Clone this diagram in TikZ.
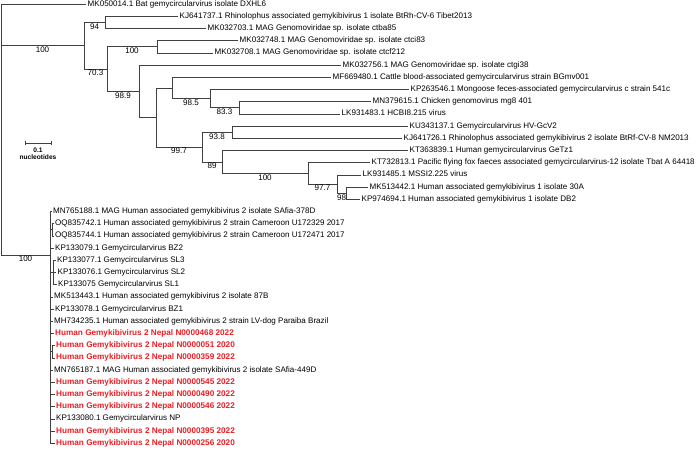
\documentclass[tikz,border=0pt]{standalone}
\usepackage{fontspec}
\setmainfont{Liberation Sans}
\usepackage{tikz}
\usetikzlibrary{positioning}
\definecolor{nepalRed}{RGB}{236,30,36}
\tikzstyle{branch} = [draw=black!75, line width=0.6pt]
\tikzstyle{leafNode} = [anchor=west, inner xsep=1.5pt, inner ysep=0pt, text height=6pt, text depth=1.8pt, font=\fontsize{8.05}{9.5}\selectfont]
\tikzstyle{nepalNode} = [leafNode, text=nepalRed, font=\fontsize{8.2}{9.5}\selectfont\bfseries]
\tikzstyle{bootLabel} = [pos=0.75, below=1pt, inner sep=0pt, font=\fontsize{8.05}{9.5}\selectfont]
\tikzstyle{scaleText} = [inner sep=0pt, font=\fontsize{6.6}{8}\selectfont\bfseries]

\begin{document}
\begin{tikzpicture}[x=1pt, y=-1pt]
\useasboundingbox (0,0) rectangle (700,450);
% leaves, upper part
\node (1) [leafNode] at (86,4) {MK050014.1 Bat gemycircularvirus isolate DXHL6};
\node (2) [leafNode] at (178,16.2) {KJ641737.1 Rhinolophus associated gemykibivirus 1 isolate BtRh-CV-6 Tibet2013};
\node (3) [leafNode] at (206,28.4) {MK032703.1 MAG Genomoviridae sp. isolate ctba85};
\node (4) [leafNode] at (238,40.6) {MK032748.1 MAG Genomoviridae sp. isolate ctci83};
\node (5) [leafNode] at (213,52.8) {MK032708.1 MAG Genomoviridae sp. isolate ctcf212};
\node (6) [leafNode] at (341,65) {MK032756.1 MAG Genomoviridae sp. isolate ctgi38};
\node (7) [leafNode] at (331,77.2) {MF669480.1 Cattle blood-associated gemycircularvirus strain BGmv001};
\node (8) [leafNode] at (409,89.4) {KP263546.1 Mongoose feces-associated gemycircularvirus c strain 541c};
\node (9) [leafNode] at (371,101.6) {MN379615.1 Chicken genomovirus mg8 401};
\node (10) [leafNode] at (340,113.8) {LK931483.1 HCBI8.215 virus};
\node (11) [leafNode] at (408,126) {KU343137.1 Gemycircularvirus HV-GcV2};
\node (12) [leafNode] at (402,138.2) {KJ641726.1 Rhinolophus associated gemykibivirus 2 isolate BtRf-CV-8 NM2013};
\node (13) [leafNode] at (408,150.4) {KT363839.1 Human gemycircularvirus GeTz1};
\node (14) [leafNode] at (370,162.6) {KT732813.1 Pacific flying fox faeces associated gemycircularvirus-12 isolate Tbat A 64418};
\node (15) [leafNode] at (361,174.8) {LK931485.1 MSSI2.225 virus};
\node (16) [leafNode] at (368,187) {MK513442.1 Human associated gemykibivirus 1 isolate 30A};
\node (17) [leafNode] at (360,199.2) {KP974694.1 Human associated gemykibivirus 1 isolate DB2};
% leaves, lower clade
\node (18) [leafNode] at (51.5,211.4) {MN765188.1 MAG Human associated gemykibivirus 2 isolate SAfia-378D};
\node (19) [leafNode] at (53.5,223.6) {OQ835742.1 Human associated gemykibivirus 2 strain Cameroon U172329 2017};
\node (20) [leafNode] at (53.5,235.8) {OQ835744.1 Human associated gemykibivirus 2 strain Cameroon U172471 2017};
\node (21) [leafNode] at (53.5,248) {KP133079.1 Gemycircularvirus BZ2};
\node (22) [leafNode] at (55.5,260.2) {KP133077.1 Gemycircularvirus SL3};
\node (23) [leafNode] at (56,272.4) {KP133076.1 Gemycircularvirus SL2};
\node (24) [leafNode] at (56.5,284.6) {KP133075 Gemycircularvirus SL1};
\node (25) [leafNode] at (52.5,296.8) {MK513443.1 Human associated gemykibivirus 2 isolate 87B};
\node (26) [leafNode] at (53.5,309) {KP133078.1 Gemycircularvirus BZ1};
\node (27) [leafNode] at (52.5,321.2) {MH734235.1 Human associated gemykibivirus 2 strain LV-dog Paraiba Brazil};
\node (28) [nepalNode] at (53.5,333.4) {Human Gemykibivirus 2 Nepal N0000468 2022};
\node (29) [nepalNode] at (54.5,345.6) {Human Gemykibivirus 2 Nepal N0000051 2020};
\node (30) [nepalNode] at (54.5,357.8) {Human Gemykibivirus 2 Nepal N0000359 2022};
\node (31) [leafNode] at (52.5,370) {MN765187.1 MAG Human associated gemykibivirus 2 isolate SAfia-449D};
\node (32) [nepalNode] at (54.5,382.2) {Human Gemykibivirus 2 Nepal N0000545 2022};
\node (33) [nepalNode] at (54.5,394.4) {Human Gemykibivirus 2 Nepal N0000490 2022};
\node (34) [nepalNode] at (54.5,406.6) {Human Gemykibivirus 2 Nepal N0000546 2022};
\node (35) [leafNode] at (54.5,418.8) {KP133080.1 Gemycircularvirus NP};
\node (36) [nepalNode] at (54.5,431) {Human Gemykibivirus 2 Nepal N0000395 2022};
\node (37) [nepalNode] at (54.5,443.2) {Human Gemykibivirus 2 Nepal N0000256 2020};
% internal nodes
\coordinate (root) at (1,129.5);
\coordinate (a) at (84,45.6);
\coordinate (b) at (105,22.3);
\coordinate (c) at (157,46.7);
\coordinate (d) at (156,117.4);
\coordinate (e) at (172,87.9);
\coordinate (f) at (210,98.55);
\coordinate (g) at (239,107.7);
\coordinate (h) at (139,91.2);
\coordinate (i) at (107,68.9);
\coordinate (j) at (202,147);
\coordinate (k) at (232,132.1);
\coordinate (m) at (222,161.9);
\coordinate (n) at (308,173.3);
\coordinate (o) at (337,184);
\coordinate (p) at (346,193.1);
\coordinate (low) at (50,255);
\coordinate (q) at (52,229.7);
\coordinate (s) at (53,272.4);
\coordinate (u) at (52,351.7);
% branches
\draw [branch] (root) |- (1.west);
\draw [branch] (root) |- (a) node [bootLabel] {100};
\draw [branch] (root) |- (low) node [bootLabel] {100};
\draw [branch] (a) |- (b) node [bootLabel] {94};
\draw [branch] (a) |- (i) node [bootLabel] {70.3};
\draw [branch] (b) |- (2.west);
\draw [branch] (b) |- (3.west);
\draw [branch] (i) |- (c) node [bootLabel] {100};
\draw [branch] (i) |- (h) node [bootLabel] {98.9};
\draw [branch] (c) |- (4.west);
\draw [branch] (c) |- (5.west);
\draw [branch] (h) |- (6.west);
\draw [branch] (h) |- (d);
\draw [branch] (d) |- (e);
\draw [branch] (d) |- (j) node [bootLabel] {99.7};
\draw [branch] (e) |- (7.west);
\draw [branch] (e) |- (f) node [bootLabel] {98.5};
\draw [branch] (f) |- (8.west);
\draw [branch] (f) |- (g) node [bootLabel] {83.3};
\draw [branch] (g) |- (9.west);
\draw [branch] (g) |- (10.west);
\draw [branch] (j) |- (k) node [bootLabel] {93.8};
\draw [branch] (j) |- (m) node [bootLabel] {89};
\draw [branch] (k) |- (11.west);
\draw [branch] (k) |- (12.west);
\draw [branch] (m) |- (13.west);
\draw [branch] (m) |- (n) node [bootLabel] {100};
\draw [branch] (n) |- (14.west);
\draw [branch] (n) |- (o) node [bootLabel] {97.7};
\draw [branch] (o) |- (15.west);
\draw [branch] (o) |- (p) node [bootLabel] {98};
\draw [branch] (p) |- (16.west);
\draw [branch] (p) |- (17.west);
% lower clade
\draw [branch] (low) |- (18.west);
\draw [branch] (low) |- (q);
\draw [branch] (q) |- (19.west);
\draw [branch] (q) |- (20.west);
\draw [branch] (low) |- (21.west);
\draw [branch] (low) |- (s);
\draw [branch] (s) |- (22.west);
\draw [branch] (s) |- (23.west);
\draw [branch] (s) |- (24.west);
\draw [branch] (low) |- (25.west);
\draw [branch] (low) |- (26.west);
\draw [branch] (low) |- (27.west);
\draw [branch] (low) |- (28.west);
\draw [branch] (low) |- (u);
\draw [branch] (u) |- (29.west);
\draw [branch] (u) |- (30.west);
\draw [branch] (low) |- (31.west);
\draw [branch] (low) |- (32.west);
\draw [branch] (low) |- (33.west);
\draw [branch] (low) |- (34.west);
\draw [branch] (low) |- (35.west);
\draw [branch] (low) |- (36.west);
\draw [branch] (low) |- (37.west);
% scale bar
\coordinate (sb1) at (25,143);
\coordinate (sb2) at (51,143);
\draw [branch] (sb1) -- (sb2);
\draw [branch] ([yshift=-1.6pt]sb1) -- ([yshift=1.6pt]sb1);
\draw [branch] ([yshift=-1.6pt]sb2) -- ([yshift=1.6pt]sb2);
\node (sbval) [scaleText] at (38,150.5) {0.1};
\node (sbunit) [scaleText, below=1.2pt of sbval] {nucleotides};
\end{tikzpicture}
\end{document}
